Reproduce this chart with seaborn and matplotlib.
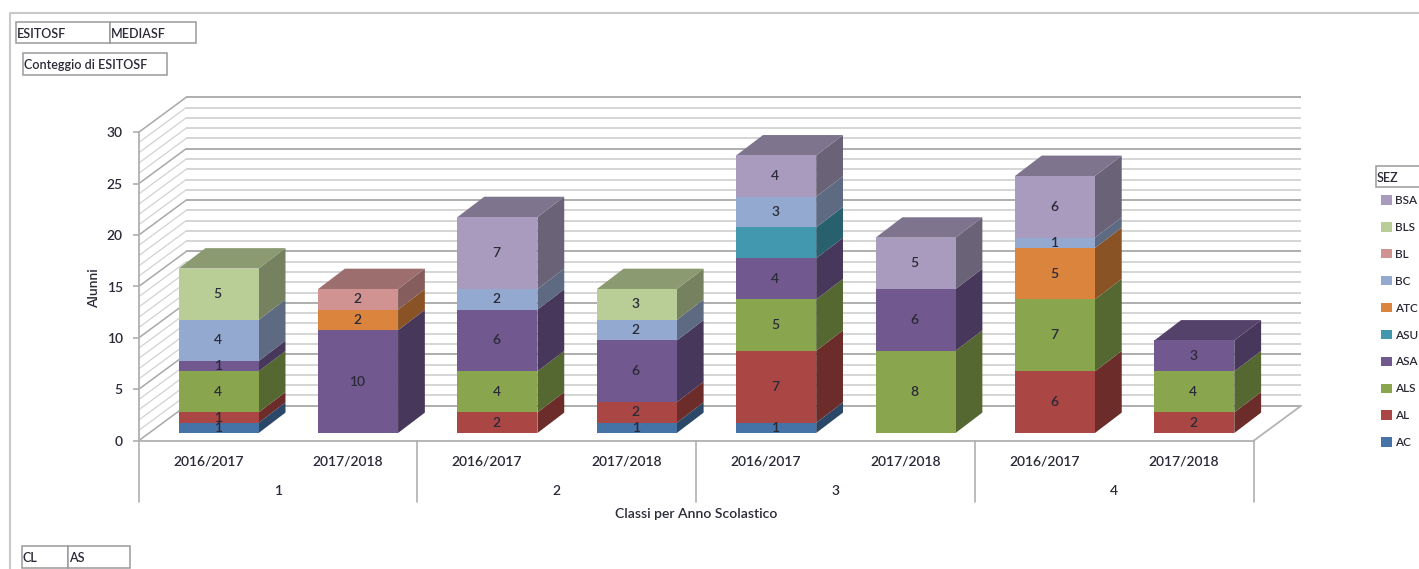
import numpy as np
import pandas as pd
import matplotlib
matplotlib.use("Agg")
import matplotlib.pyplot as plt
from matplotlib.lines import Line2D
from matplotlib.patches import Patch, Polygon, Rectangle
from matplotlib.transforms import Affine2D
import seaborn as sns

# ---------- data ----------
years = ["2016/2017", "2017/2018"] * 4
classes = ["1", "2", "3", "4"]
bar_ids = [f"{c} {y}" for c in classes for y in years[:2]]
series_names = ["AC", "AL", "ALS", "ASA", "ASU", "ATC", "BC", "BL", "BLS", "BSA"]
AC  = [1, 0, 0, 1, 1, 0, 0, 0]
AL  = [1, 0, 2, 2, 7, 0, 6, 2]
ALS = [4, 0, 4, 0, 5, 8, 7, 4]
ASA = [1, 10, 6, 6, 4, 6, 0, 3]
ASU = [0, 0, 0, 0, 3, 0, 0, 0]
ATC = [0, 2, 0, 0, 0, 0, 5, 0]
BC  = [4, 0, 2, 2, 3, 0, 1, 0]
BL  = [0, 2, 0, 0, 0, 0, 0, 0]
BLS = [5, 0, 0, 3, 0, 0, 0, 0]
BSA = [0, 0, 7, 0, 4, 5, 6, 0]
series_values = [AC, AL, ALS, ASA, ASU, ATC, BC, BL, BLS, BSA]
colors = ["#4572A7", "#AA4643", "#89A54E", "#71588F", "#4198AF",
          "#DB843D", "#93A9CF", "#D19392", "#B9CD96", "#A99BBD"]
unlabelled_series = ["ASU"]
y_ticks = [0, 5, 10, 15, 20, 25, 30]

# ---------- figure ----------
W, H = 1419, 569
sns.set_theme(style="white")
plt.rcParams["font.family"] = ["Lato", "DejaVu Sans"]
plt.rcParams["font.weight"] = 600
plt.rcParams["axes.labelweight"] = 600
TXT = "#2a2a38"
fig = plt.figure(figsize=(W / 100, H / 100), dpi=100, facecolor="white")
L, R, T, B = 138.7, 1253.7, 132.3, 440.7
ax = fig.add_axes([L / W, 1 - B / H, (R - L) / W, (B - T) / H])
ax.patch.set_alpha(0)
px_x = 8 / (R - L)
px_y = 30 / (B - T)

wall_dx, wall_dy = 47.5 * px_x, 35.0 * px_y
front_dx, front_dy = 10.3 * px_x, 7.7 * px_y
bar_dx, bar_dy = 26.8 * px_x, 20.4 * px_y
bar_w = 80 * px_x

def dark(c, f):
    return tuple(v * f for v in matplotlib.colors.to_rgb(c))

# walls
MAJ, MIN = "#a8a8a8", "#d2d2d2"
for v in range(0, 31):
    major = v % 5 == 0
    col, lw = (MAJ, 1.3) if major else (MIN, 1.3)
    ax.plot([-0.5 + wall_dx, 7.5 + wall_dx], [v + wall_dy] * 2, color=col, lw=lw,
            clip_on=False, zorder=1, solid_capstyle="butt")
    ax.plot([-0.5, -0.5 + wall_dx], [v, v + wall_dy], color=col, lw=0.9 if not major else 1.1,
            clip_on=False, zorder=1)
ax.plot([7.5, 7.5 + wall_dx], [0, wall_dy], color="#b4b4b4", lw=1.3, clip_on=False, zorder=1)

# stacked front faces
bottoms = np.zeros(8)
for name, vals, col in zip(series_names, series_values, colors):
    df = pd.DataFrame({"bar": bar_ids, "n": vals})
    sns.barplot(data=df, x="bar", y="n", order=bar_ids, color=col, saturation=1,
                width=bar_w, errorbar=None, bottom=bottoms.copy(), linewidth=0,
                zorder=3, ax=ax)
    bottoms += np.array(vals, dtype=float)

shift = Affine2D().translate(front_dx, front_dy) + ax.transData
for p in ax.patches:
    if isinstance(p, Rectangle):
        p.set_transform(shift)
        p.set_clip_on(False)

# side faces, top faces, value labels
base = np.zeros(8)
for name, vals, col in zip(series_names, series_values, colors):
    for i, v in enumerate(vals):
        if v == 0:
            continue
        b, t = base[i] + front_dy, base[i] + v + front_dy
        xl = i - bar_w / 2 + front_dx
        xr = i + bar_w / 2 + front_dx
        ax.add_patch(Polygon([(xr, b), (xr + bar_dx, b + bar_dy), (xr + bar_dx, t + bar_dy), (xr, t)],
                             closed=True, facecolor=dark(col, 0.63), edgecolor="none",
                             clip_on=False, zorder=2.5))
        if base[i] + v == bottoms[i]:
            ax.add_patch(Polygon([(xl, t), (xr, t), (xr + bar_dx, t + bar_dy), (xl + bar_dx, t + bar_dy)],
                                 closed=True, facecolor=dark(col, 0.75), edgecolor="none",
                                 clip_on=False, zorder=2.5))
        if name not in unlabelled_series:
            ax.text(i + front_dx - 1 * px_x, (b + t) / 2, str(v), ha="center", va="center",
                    fontsize=10, color=TXT, zorder=5, clip_on=False)
    base += np.array(vals, dtype=float)

# axes
ax.set_xlim(-0.5, 7.5)
ax.set_ylim(0, 30)
for s in ["top", "right"]:
    ax.spines[s].set_visible(False)
for s in ["left", "bottom"]:
    ax.spines[s].set_visible(True)
    ax.spines[s].set_color("#b0b0b0")
    ax.spines[s].set_linewidth(1.3)
ax.set_yticks(y_ticks)
ax.tick_params(axis="y", left=True, length=4, width=1.1, color="#a8a8a8", pad=7.5,
               labelsize=10, labelcolor=TXT)
ax.set_xticks(range(8), years)
ax.tick_params(axis="x", bottom=False, length=0, pad=11, labelsize=10, labelcolor=TXT)
ax.grid(False)

# class grouping below the axis
xt = ax.get_xaxis_transform()
for k in range(5):
    ax.plot([-0.5 + 2 * k] * 2, [0, -61.5 / (B - T)], transform=xt, color="#b0b0b0", lw=1.2,
            clip_on=False, zorder=1)
for k, c in enumerate(classes):
    ax.text(0.5 + 2 * k, -50.5 / (B - T), c, transform=xt, ha="center", va="center",
            fontsize=10, color=TXT)

ax.set_xlabel("Classi per Anno Scolastico", fontsize=10.1, color=TXT, va="center")
ax.xaxis.set_label_coords(0.5, -(514 - B) / (B - T))
ax.set_ylabel("Alunni", fontsize=10, color=TXT, va="center", ha="center")
ax.yaxis.set_label_coords((94 - L) / (R - L), (B - 288) / (B - T))

# legend
handles = [Patch(facecolor=c, edgecolor="none") for c in colors[::-1]]
fig.legend(handles, series_names[::-1], loc="upper left",
           bbox_to_anchor=(1379 / W, 1 - 192.5 / H), frameon=False, fontsize=8.5,
           labelspacing=1.35, handlelength=0.87, handleheight=0.87, handletextpad=0.25,
           borderpad=0.2, borderaxespad=0, labelcolor=TXT)

# Excel pivot-field buttons and sheet frame
def fline(xs, ys, col="#c9c9c9", lw=1.5):
    fig.add_artist(Line2D([x / W for x in xs], [1 - y / H for y in ys], color=col, lw=lw,
                          transform=fig.transFigure, solid_capstyle="butt"))

def button(x0, y0, x1, y1, label):
    fig.add_artist(Rectangle((x0 / W, 1 - y1 / H), (x1 - x0) / W, (y1 - y0) / H, facecolor="white",
                             edgecolor="#9a9a9a", lw=1.1, transform=fig.transFigure))
    fig.text((x0 + 1) / W, 1 - ((y0 + y1) / 2 + 1) / H, label, ha="left", va="center",
             fontsize=9, color=TXT)

fline([10, 10, W], [H, 12.5, 12.5])
button(16, 22, 110, 43, "ESITOSF")
button(110, 22, 196, 43, "MEDIASF")
button(22.5, 53, 167, 75, "Conteggio di ESITOSF")
button(22, 546, 68, 568, "CL")
button(68, 546, 130, 568, "AS")
button(1375.5, 166, 1425, 187, "SEZ")

fig.savefig("out.png", dpi=100, facecolor="white")
